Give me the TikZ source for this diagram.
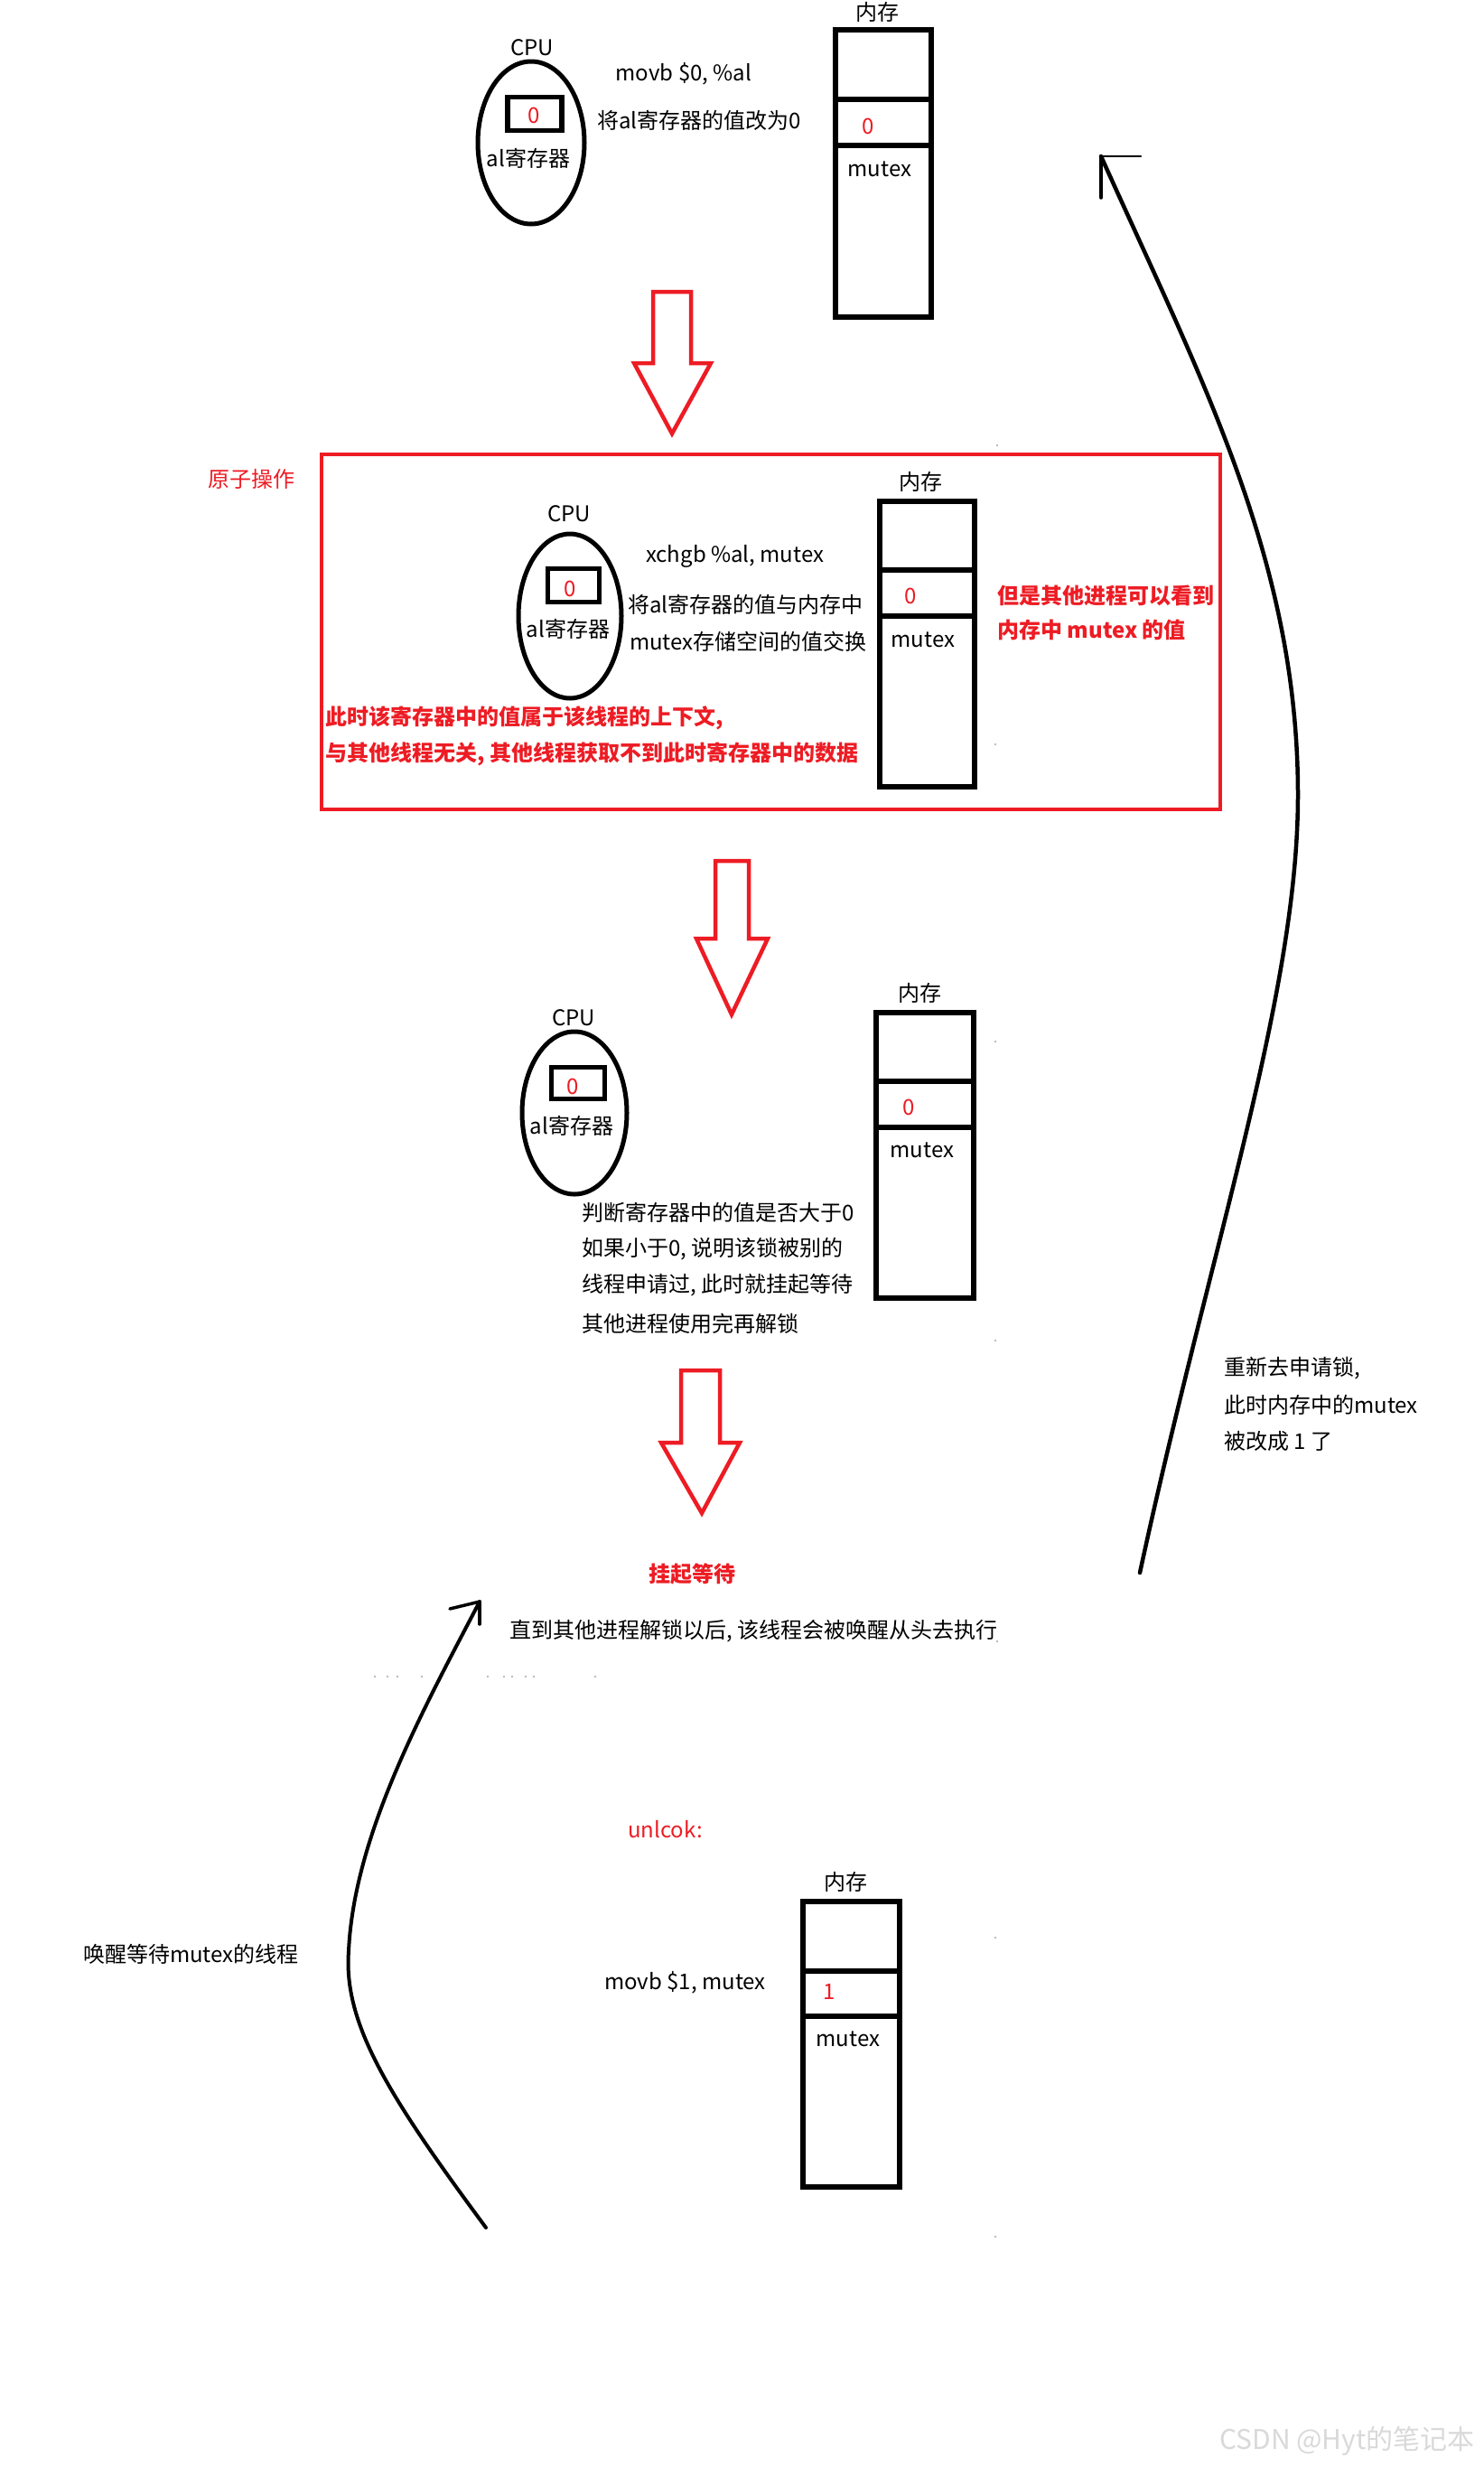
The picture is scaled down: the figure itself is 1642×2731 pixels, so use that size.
\documentclass[tikz,border=0pt]{standalone}
\usepackage{fontspec}
\setmainfont{Noto Sans CJK SC}
\usetikzlibrary{shapes.geometric}
\definecolor{pRed}{RGB}{237,28,36}
\tikzset{
  txt/.style={font=\fontsize{24}{28}\selectfont, inner sep=0pt, text=black},
  redtxt/.style={txt, text=pRed},
  boldred/.style={inner sep=0pt, text=pRed, font=\fontsize{24}{28}\selectfont\bfseries},
  cpuel/.style={ellipse, draw=black, line width=5pt, inner sep=0pt},
  regbox/.style={rectangle, draw=black, line width=5.5pt, inner sep=0pt},
  memcol/.style={rectangle, draw=black, line width=5.5pt, inner sep=0pt},
  divider/.style={draw=black, line width=5.5pt},
  redarrow/.style={draw=pRed, line width=4.5pt, line join=miter},
  curveline/.style={draw=black, line width=4.5pt, line cap=round},
  barb/.style={draw=black, line width=2.5pt, line cap=round},
  speck/.style={fill=gray!70},
}
\begin{document}
\begin{tikzpicture}[x=1pt,y=-1pt]
\useasboundingbox (0,0) rectangle (1642,2731);
\fill[white] (0,0) rectangle (1642,2731);

% ---------- stage 1 ----------
\node[cpuel, minimum width=118pt, minimum height=180pt] (cpu1) at (588,158) {};
\node[regbox, minimum width=60pt, minimum height=37pt] (r1) at (592,126) {};
\node[redtxt] (r1v) at (591,128) {0};
\node[txt] (r1n) at (585,175) {al寄存器};
\node[txt] (cpu1l) at (589,53) {CPU};
\node[txt] (ins1) at (757,82) {movb \$0, \%al};
\node[txt, anchor=west] (d1) at (661,133) {将al寄存器的值改为0};
\node[memcol, minimum width=106pt, minimum height=318pt] (m1) at (978,192) {};
\draw[divider] (m1.west |- 0,110) -- (m1.east |- 0,110);
\draw[divider] (m1.west |- 0,161) -- (m1.east |- 0,161);
\node[txt] (m1l) at (971,13) {内存};
\node[redtxt] (m1v) at (961,140) {0};
\node[txt] (m1n) at (974,187) {mutex};

\draw[redarrow] (723,323) -- (765,323) -- (765,402) -- (787,402) -- (744,480) -- (702,402) -- (723,402) -- cycle;

% ---------- stage 2 (atomic) ----------
\node[draw=pRed, line width=4.5pt, minimum width=995pt, minimum height=393pt, inner sep=0pt] (atom) at (853.5,699.5) {};
\node[redtxt] (atoml) at (278,530) {原子操作};
\node[cpuel, minimum width=114pt, minimum height=182pt] (cpu2) at (631,682) {};
\node[regbox, minimum width=57pt, minimum height=37pt] (r2) at (635,648) {};
\node[redtxt] (r2v) at (631,652) {0};
\node[txt] (r2n) at (629,696) {al寄存器};
\node[txt] (cpu2l) at (630,569) {CPU};
\node[txt, anchor=west] (ins2) at (715,616) {xchgb \%al, mutex};
\node[txt, anchor=west] (d2a) at (695,669) {将al寄存器的值与内存中};
\node[txt, anchor=west] (d2b) at (697,710) {mutex存储空间的值交换};
\node[memcol, minimum width=105pt, minimum height=316pt] (m2) at (1026.5,713) {};
\draw[divider] (m2.west |- 0,631) -- (m2.east |- 0,631);
\draw[divider] (m2.west |- 0,682) -- (m2.east |- 0,682);
\node[txt] (m2l) at (1019,533) {内存};
\node[redtxt] (m2v) at (1008,660) {0};
\node[txt] (m2n) at (1022,708) {mutex};
\node[boldred, anchor=west] (n2a) at (1104,659) {但是其他进程可以看到};
\node[boldred, anchor=west] (n2b) at (1104,697) {内存中 mutex 的值};
\node[boldred, anchor=west] (n2c) at (360,795) {此时该寄存器中的值属于该线程的上下文,};
\node[boldred, anchor=west] (n2d) at (360,835) {与其他线程无关, 其他线程获取不到此时寄存器中的数据};

\draw[redarrow] (792,953) -- (829,953) -- (829,1039) -- (850,1039) -- (810,1123) -- (771,1039) -- (792,1039) -- cycle;

% ---------- stage 3 ----------
\node[cpuel, minimum width=116pt, minimum height=180pt] (cpu3) at (636,1232) {};
\node[regbox, minimum width=59pt, minimum height=35pt] (r3) at (640,1199) {};
\node[redtxt] (r3v) at (634,1203) {0};
\node[txt] (r3n) at (633,1246) {al寄存器};
\node[txt] (cpu3l) at (635,1127) {CPU};
\node[memcol, minimum width=108pt, minimum height=316pt] (m3) at (1024,1279) {};
\draw[divider] (m3.west |- 0,1197) -- (m3.east |- 0,1197);
\draw[divider] (m3.west |- 0,1248) -- (m3.east |- 0,1248);
\node[txt] (m3l) at (1018,1099) {内存};
\node[redtxt] (m3v) at (1006,1226) {0};
\node[txt] (m3n) at (1021,1273) {mutex};
\node[txt, anchor=west] (d3a) at (644,1342) {判断寄存器中的值是否大于0};
\node[txt, anchor=west] (d3b) at (644,1383) {如果小于0, 说明该锁被别的};
\node[txt, anchor=west] (d3c) at (644,1423) {线程申请过, 此时就挂起等待};
\node[txt, anchor=west] (d3d) at (644,1465) {其他进程使用完再解锁};

\draw[redarrow] (754,1517) -- (797,1517) -- (797,1597) -- (819,1597) -- (777,1675) -- (732,1597) -- (754,1597) -- cycle;

\node[boldred] (wait) at (766,1742) {挂起等待};
\node[txt, anchor=west] (waitd) at (564,1806) {直到其他进程解锁以后, 该线程会被唤醒从头去执行};

% ---------- unlock ----------
\node[redtxt, anchor=west] (unl) at (695,2025) {unlcok:};
\node[txt, anchor=west] (ins4) at (669,2195) {movb \$1, mutex};
\node[memcol, minimum width=107pt, minimum height=316pt] (m4) at (942.5,2263) {};
\draw[divider] (m4.west |- 0,2182) -- (m4.east |- 0,2182);
\draw[divider] (m4.west |- 0,2232) -- (m4.east |- 0,2232);
\node[txt] (m4l) at (936,2083) {内存};
\node[redtxt] (m4v) at (918,2205) {1};
\node[txt] (m4n) at (939,2257) {mutex};
\node[txt, anchor=west] (wake) at (92,2163) {唤醒等待mutex的线程};

\node[txt, anchor=west] (re1) at (1355,1515) {重新去申请锁,};
\node[txt, anchor=west] (re2) at (1355,1555) {此时内存中的mutex};
\node[txt, anchor=west] (re3) at (1355,1595) {被改成 1 了};

% ---------- curved arrows ----------
\coordinate (bigS) at (1262,1741);
\coordinate (bigE) at (1219,173);
\draw[curveline] (bigS) .. controls (1340,1380) and (1437,1100) .. (1437,880) .. controls (1437,620) and (1330,420) .. (bigE);
\draw[barb] (bigE) -- ++(44,0);
\draw[barb, line width=3.5pt] (bigE) -- ++(0,46);

\coordinate (smS) at (538,2466);
\coordinate (smE) at (531,1773);
\draw[curveline, line width=4pt] (smS) .. controls (430,2320) and (380,2240) .. (386,2160) .. controls (392,2030) and (470,1890) .. (smE);
\draw[barb, line width=3.5pt] (smE) -- ++(0,25);
\draw[barb, line width=3.5pt] (smE) -- ++(-33,8);

% ---------- specks ----------
\foreach \px/\py in {1104/493,1102/824,1102/1153,1102/1484,1104/1817,1102/2145,1102/2476,
  415/1856,429/1856,440/1856,467/1856,540/1856,558/1856,567/1856,582/1856,591/1856,659/1856}
  \fill[speck] (\px,\py) circle (1.2);

\node[inner sep=0pt, anchor=west, text=gray!30, font=\fontsize{30}{34}\selectfont] (wm) at (1350,2702) {CSDN @Hyt的笔记本};
\end{tikzpicture}
\end{document}
